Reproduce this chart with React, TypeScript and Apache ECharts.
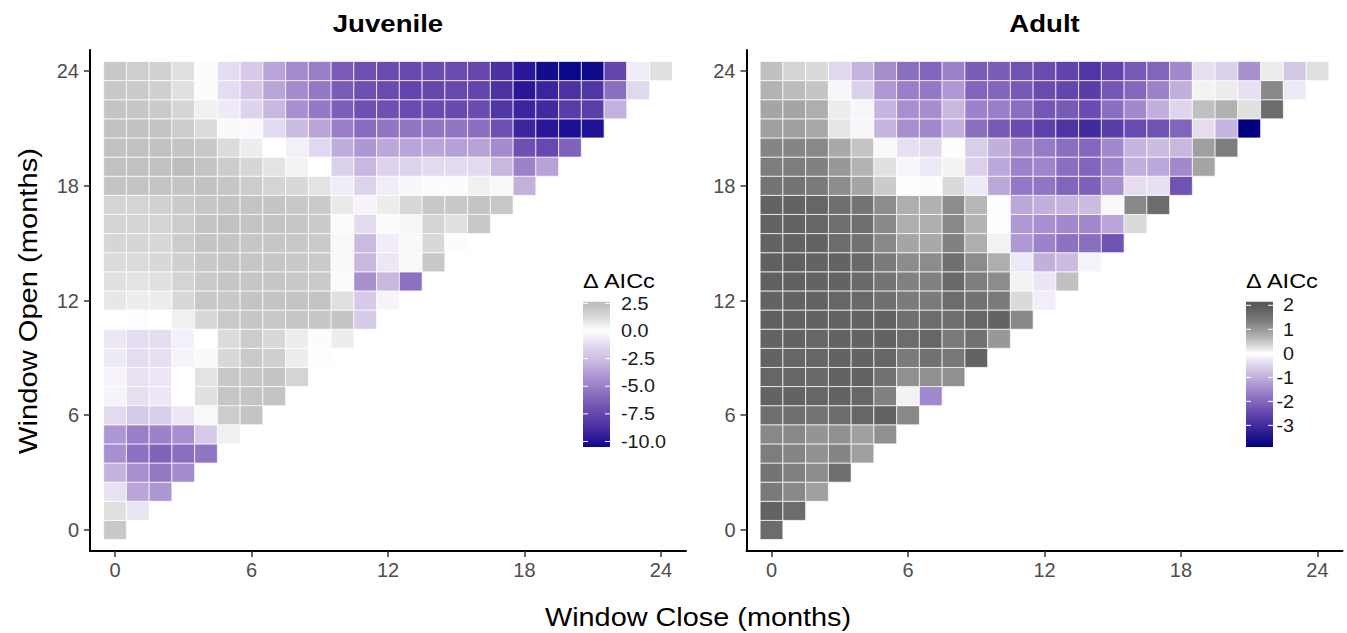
import React, { useEffect, useRef } from "react";
import * as echarts from "echarts";

// ---------- DATA ----------
const closeTicks = [0, 6, 12, 18, 24];
const openTicks = [0, 6, 12, 18, 24];

// Juvenile: row index = window open (months), entries = window close 0..open
const juvenileValues: number[][] = [
  [2.0],
  [1.0, -0.9],
  [-1.0, -3.5, -4.0],
  [-3.0, -4.3, -5.3, -4.5],
  [-4.3, -5.6, -6.2, -5.7, -5.4],
  [-4.0, -5.0, -4.9, -4.3, -2.0, 0.5],
  [-1.3, -2.0, -1.8, -0.8, 0.2, 1.8, 2.2],
  [-0.4, -1.1, -0.8, 0.0, 1.0, 2.1, 2.2, 2.2],
  [-0.4, -1.0, -0.8, 0.0, 0.9, 2.0, 2.1, 2.2, 1.5],
  [-0.7, -1.2, -1.1, -0.4, 0.2, 1.3, 1.9, 1.7, 0.6, 0.05],
  [-0.8, -1.2, -1.2, -0.5, 0.0, 1.2, 1.8, 1.3, 0.6, 0.1, 0.6],
  [0.0, -0.1, 0.0, 0.5, 1.3, 1.9, 2.1, 2.0, 2.1, 2.1, 2.2, -2.0],
  [0.8, 0.6, 0.6, 1.3, 2.0, 2.0, 2.2, 2.2, 2.2, 2.2, 1.0, -2.0, -0.4],
  [1.0, 0.9, 1.0, 1.5, 1.9, 2.1, 2.1, 2.1, 2.0, 1.9, 0.1, -4.3, -2.8, -5.6],
  [1.2, 1.2, 1.3, 1.7, 2.0, 2.1, 2.1, 2.1, 2.0, 1.9, 0.2, -2.8, -0.8, 0.2, 2.0],
  [1.4, 1.4, 1.3, 1.8, 2.2, 2.2, 2.1, 2.1, 2.0, 1.9, 0.2, -2.7, -0.6, 0.2, 1.3, 0.1],
  [1.5, 1.4, 1.5, 1.8, 2.2, 2.3, 2.2, 2.2, 2.1, 1.9, 0.1, -1.3, 0.1, 0.3, 1.5, 1.0, 2.0],
  [1.5, 1.5, 1.6, 1.9, 2.1, 2.2, 2.2, 2.2, 2.0, 1.9, 0.7, -0.4, 0.6, 1.3, 2.0, 2.0, 2.2, 2.0],
  [2.2, 2.2, 2.2, 2.2, 2.3, 2.1, 1.8, 1.5, 1.3, 0.9, -0.6, -1.6, -0.6, -0.3, 0.1, 0.1, 0.5, 0.2, -3.1],
  [2.4, 2.4, 2.4, 2.6, 2.2, 1.8, 1.4, 0.9, 0.4, 0.0, -1.7, -2.8, -1.6, -1.6, -1.3, -1.3, -1.3, -2.8, -4.9, -3.6],
  [2.4, 2.4, 2.3, 2.2, 2.0, 1.2, 0.6, 0.0, -0.5, -1.4, -3.2, -4.0, -3.4, -3.5, -3.5, -3.7, -3.6, -4.5, -7.0, -7.4, -6.2],
  [2.3, 2.3, 2.2, 1.8, 1.2, 0.2, -0.2, -1.3, -2.6, -3.5, -5.0, -5.8, -5.4, -5.4, -5.4, -5.4, -5.7, -7.0, -9.2, -9.8, -10.1, -10.0],
  [2.2, 2.1, 1.9, 1.4, 0.5, -0.7, -1.6, -2.8, -4.3, -5.3, -6.4, -7.0, -7.0, -7.2, -7.2, -7.3, -7.2, -8.4, -9.2, -9.0, -8.0, -7.9, -3.0],
  [2.0, 1.9, 1.7, 1.0, 0.1, -1.2, -2.2, -3.5, -4.5, -5.3, -6.5, -7.0, -7.2, -7.6, -7.5, -7.4, -7.6, -8.6, -9.8, -9.2, -8.6, -8.4, -5.7, -1.4],
  [2.0, 1.7, 1.6, 1.0, 0.1, -1.2, -2.0, -3.5, -4.5, -5.0, -6.5, -7.0, -7.2, -7.3, -7.2, -7.2, -7.5, -8.7, -9.8, -10.3, -10.5, -10.4, -7.6, -0.6, 1.0],
];

// Adult: row index = window open (months), entries = window close 0..open
const adultValues: number[][] = [
  [1.65],
  [1.8, 1.65],
  [1.4, 1.2, 0.9],
  [1.5, 1.3, 1.15, 1.6],
  [1.35, 1.25, 1.1, 1.25, 0.9],
  [1.2, 1.2, 1.05, 1.1, 0.9, 1.1],
  [1.6, 1.6, 1.5, 1.65, 1.75, 1.8, 1.2],
  [1.8, 1.8, 1.75, 1.8, 1.75, 1.3, 0.1, -1.5],
  [1.75, 1.75, 1.7, 1.8, 1.8, 1.55, 1.1, 1.1, 1.1],
  [1.8, 1.75, 1.75, 1.8, 1.8, 1.75, 1.4, 1.55, 1.45, 1.8],
  [1.8, 1.8, 1.75, 1.8, 1.8, 1.8, 1.65, 1.75, 1.4, 1.55, 1.0],
  [1.85, 1.8, 1.8, 1.8, 1.8, 1.8, 1.6, 1.65, 1.6, 1.75, 1.8, 1.2],
  [1.8, 1.8, 1.8, 1.75, 1.7, 1.6, 1.4, 1.4, 1.65, 1.55, 1.4, 0.3, -0.2],
  [1.85, 1.85, 1.8, 1.8, 1.7, 1.5, 1.3, 1.3, 1.7, 1.35, 1.15, 0.1, -0.3, 0.55],
  [1.85, 1.85, 1.8, 1.8, 1.7, 1.4, 1.15, 1.15, 1.6, 1.15, 0.75, -0.25, -1.0, -0.85, -0.15],
  [1.8, 1.8, 1.8, 1.65, 1.55, 1.2, 0.85, 0.8, 1.3, 0.75, 0.1, -1.3, -1.6, -1.85, -1.9, -2.3],
  [1.8, 1.8, 1.75, 1.6, 1.6, 1.2, 0.75, 0.75, 1.2, 0.7, 0.0, -1.3, -1.4, -1.5, -1.5, -1.15, 0.3],
  [1.8, 1.8, 1.75, 1.6, 1.5, 1.15, 0.75, 0.72, 1.15, 0.65, 0.0, -1.1, -1.0, -0.95, -0.85, 0.05, 1.2, 1.65],
  [1.5, 1.5, 1.4, 1.15, 0.85, 0.45, 0.0, 0.02, 0.3, -0.25, -1.1, -1.75, -1.8, -2.05, -2.1, -1.4, -0.4, -0.35, -2.3],
  [1.35, 1.35, 1.3, 1.0, 0.7, 0.25, -0.1, -0.25, 0.1, -0.55, -1.1, -1.6, -1.55, -1.9, -2.05, -1.6, -1.0, -1.1, -1.5, 0.85],
  [1.25, 1.25, 1.2, 0.8, 0.5, 0.05, -0.35, -0.45, 0.0, -0.6, -1.0, -1.5, -1.7, -1.9, -2.0, -1.5, -0.95, -0.85, -0.9, 0.9, 1.35],
  [0.9, 0.9, 0.8, 0.2, -0.1, -0.95, -1.4, -1.5, -1.0, -1.9, -2.2, -2.4, -2.6, -2.85, -3.0, -2.65, -2.4, -2.3, -2.05, -0.4, -0.95, -3.9],
  [0.85, 0.85, 0.75, 0.15, -0.1, -0.95, -1.4, -1.45, -0.9, -1.6, -1.65, -1.9, -2.25, -2.2, -2.4, -1.9, -1.5, -1.0, -0.5, 0.55, 0.72, 0.25, 1.65],
  [0.7, 0.6, 0.5, -0.1, -0.55, -1.3, -1.65, -1.75, -1.3, -2.05, -2.05, -2.2, -2.4, -2.5, -2.65, -2.25, -2.0, -1.6, -1.0, 0.1, 0.15, -0.35, 1.2, -0.25],
  [0.55, 0.35, 0.3, -0.45, -0.95, -1.45, -1.9, -2.05, -1.6, -2.15, -2.15, -2.3, -2.4, -2.55, -2.8, -2.5, -2.2, -2.05, -1.5, -0.35, -0.55, -1.4, 0.15, -0.7, 0.25],
];

const juvenileRange = [-10.5, 2.65];
const adultRange = [-3.9, 2.15];
const juvenileLegendTicks = [2.5, 0, -2.5, -5, -7.5, -10];
const juvenileLegendLabels = ["2.5", "0.0", "-2.5", "-5.0", "-7.5", "-10.0"];
const adultLegendTicks = [2, 1, 0, -1, -2, -3];
const adultLegendLabels = ["2", "1", "0", "-1", "-2", "-3"];

// ---------- COLOUR SCALES (style) ----------
const juvenileStops: [number, string][] = [
  [-10.5, "#0a0888"], [-9.8, "#2a169a"], [-8.7, "#4a30a0"], [-7.2, "#6a4cb0"],
  [-6.5, "#7a5cb8"], [-5.3, "#9478c4"], [-4.3, "#a890d0"], [-2.8, "#c8b8e0"],
  [-1.2, "#e4dcf0"], [0, "#ffffff"], [1.0, "#e0e0e0"], [2.0, "#c8c8c8"], [2.65, "#bcbcbc"],
];
const adultStops: [number, string][] = [
  [-3.9, "#000080"], [-2.9, "#4a30a0"], [-2.4, "#6a4cb0"], [-1.9, "#8a6ec0"],
  [-1.4, "#a890d0"], [-0.9, "#c8b8e0"], [-0.4, "#e4dcf0"], [0, "#ffffff"],
  [0.25, "#e0e0e0"], [0.55, "#c0c0c0"], [0.9, "#a0a0a0"], [1.3, "#808080"],
  [1.85, "#606060"], [2.15, "#555555"],
];

const FONT = "'Liberation Sans', Arial, Helvetica, sans-serif";

function hexToRgb(h: string): number[] {
  const s = h.replace("#", "");
  return [0, 2, 4].map((i) => parseInt(s.slice(i, i + 2), 16));
}
function colorAt(stops: [number, string][], v: number): string {
  if (v <= stops[0][0]) return stops[0][1];
  if (v >= stops[stops.length - 1][0]) return stops[stops.length - 1][1];
  for (let i = 0; i < stops.length - 1; i++) {
    const [a, ca] = stops[i];
    const [b, cb] = stops[i + 1];
    if (v >= a && v <= b) {
      const t = (v - a) / (b - a);
      const A = hexToRgb(ca);
      const B = hexToRgb(cb);
      const c = A.map((x, k) => Math.round(x + (B[k] - x) * t));
      return `rgb(${c[0]},${c[1]},${c[2]})`;
    }
  }
  return stops[0][1];
}
function sampleColors(stops: [number, string][], min: number, max: number, n: number): string[] {
  const out: string[] = [];
  for (let i = 0; i < n; i++) out.push(colorAt(stops, min + ((max - min) * i) / (n - 1)));
  return out;
}
function toCells(rows: number[][]): number[][] {
  const out: number[][] = [];
  rows.forEach((row, open) => row.forEach((v, close) => out.push([close, open, v])));
  return out;
}

const PANELS = [
  {
    title: "Juvenile", values: juvenileValues, stops: juvenileStops, range: juvenileRange,
    ticks: juvenileLegendTicks, labels: juvenileLegendLabels,
    gridLeft: 90, legendX: 583, labelX: 621, labelAlign: "left",
  },
  {
    title: "Adult", values: adultValues, stops: adultStops, range: adultRange,
    ticks: adultLegendTicks, labels: adultLegendLabels,
    gridLeft: 746.5, legendX: 1246, labelX: 1294, labelAlign: "right",
  },
];

const GRID_TOP = 50;
const GRID_W = 596;
const GRID_H = 501;
const AX_MIN = -1.1;
const AX_MAX = 25.1;
const LEG_TOP = 301.7;
const LEG_H = 145.3;
const LEG_W = 27;

export default function App() {
  const ref = useRef<HTMLDivElement>(null);

  useEffect(() => {
    if (!ref.current) return;
    const chart = echarts.init(ref.current, undefined, { renderer: "svg" });

    const graphics: any[] = [];
    PANELS.forEach((p) => {
      const cx = p.gridLeft + GRID_W / 2;
      graphics.push({
        type: "text", x: cx, y: 24, scaleX: 1.15,
        style: { text: p.title, fontSize: 24, fontWeight: "bold", fontFamily: FONT, fill: "#000", align: "center", verticalAlign: "middle" },
      });
      const [mn, mx] = p.range;
      const n = 60;
      const colorStops = [];
      for (let i = 0; i < n; i++) {
        colorStops.push({ offset: i / (n - 1), color: colorAt(p.stops, mx - ((mx - mn) * i) / (n - 1)) });
      }
      graphics.push({
        type: "text", x: p.legendX, y: 281, scaleX: 1.12,
        style: { text: "Δ AICc", fontSize: 21, fontFamily: FONT, fill: "#000", align: "left", verticalAlign: "middle" },
      });
      graphics.push({
        type: "rect",
        shape: { x: p.legendX, y: LEG_TOP, width: LEG_W, height: LEG_H },
        style: { fill: new echarts.graphic.LinearGradient(0, 0, 0, 1, colorStops) },
      });
      p.ticks.forEach((t, i) => {
        const ty = LEG_TOP + ((mx - t) / (mx - mn)) * LEG_H;
        graphics.push({ type: "line", shape: { x1: p.legendX, y1: ty, x2: p.legendX + 5, y2: ty }, style: { stroke: "#ffffff", lineWidth: 1 } });
        graphics.push({ type: "line", shape: { x1: p.legendX + LEG_W - 5, y1: ty, x2: p.legendX + LEG_W, y2: ty }, style: { stroke: "#ffffff", lineWidth: 1 } });
        graphics.push({
          type: "text", x: p.labelX, y: ty, scaleX: 1.1,
          style: { text: p.labels[i], fontSize: 18, fontFamily: FONT, fill: "#1a1a1a", align: p.labelAlign, verticalAlign: "middle" },
        });
      });
    });
    graphics.push({
      type: "text", x: 28, y: 301, rotation: Math.PI / 2, scaleX: 1.12,
      style: { text: "Window Open (months)", fontSize: 26, fontFamily: FONT, fill: "#000", align: "center", verticalAlign: "middle" },
    });
    graphics.push({
      type: "text", x: 698, y: 617, scaleX: 1.11,
      style: { text: "Window Close (months)", fontSize: 26, fontFamily: FONT, fill: "#000", align: "center", verticalAlign: "middle" },
    });

    const axisCommon = (ticks: number[], margin: number) => ({
      type: "value",
      min: AX_MIN,
      max: AX_MAX,
      axisLine: { show: true, onZero: false, lineStyle: { color: "#000", width: 2 } },
      axisTick: { show: true, customValues: ticks, length: 6, lineStyle: { color: "#333", width: 1.5 } },
      axisLabel: { show: true, customValues: ticks, fontSize: 20, color: "#4d4d4d", margin, fontFamily: FONT },
      splitLine: { show: false },
    });

    const option: any = {
      animation: false,
      backgroundColor: "#ffffff",
      textStyle: { fontFamily: FONT },
      grid: PANELS.map((p) => ({ left: p.gridLeft, top: GRID_TOP, width: GRID_W, height: GRID_H })),
      xAxis: PANELS.map((_, i) => ({ ...axisCommon(closeTicks, 9), gridIndex: i })),
      yAxis: PANELS.map((_, i) => ({ ...axisCommon(openTicks, 11), gridIndex: i })),
      visualMap: PANELS.map((p, i) => ({
        type: "continuous",
        show: false,
        seriesIndex: i,
        dimension: 2,
        min: p.range[0],
        max: p.range[1],
        inRange: { color: sampleColors(p.stops, p.range[0], p.range[1], 80) },
      })),
      series: PANELS.map((p, i) => ({
        type: "custom",
        name: p.title,
        xAxisIndex: i,
        yAxisIndex: i,
        encode: { x: 0, y: 1 },
        data: toCells(p.values),
        renderItem: (params: any, api: any) => {
          const x = api.value(0);
          const y = api.value(1);
          const p0 = api.coord([x - 0.5, y + 0.5]);
          const p1 = api.coord([x + 0.5, y - 0.5]);
          return {
            type: "rect",
            shape: { x: p0[0], y: p0[1], width: p1[0] - p0[0], height: p1[1] - p0[1] },
            style: { fill: api.visual("color"), stroke: "#ffffff", lineWidth: 0.7 },
          };
        },
      })),
      graphic: graphics,
    };

    chart.setOption(option);
    return () => chart.dispose();
  }, []);

  return (
    <div
      ref={ref}
      style={{ position: "absolute", left: 0, top: 0, width: 1347, height: 633, background: "#ffffff" }}
    />
  );
}
